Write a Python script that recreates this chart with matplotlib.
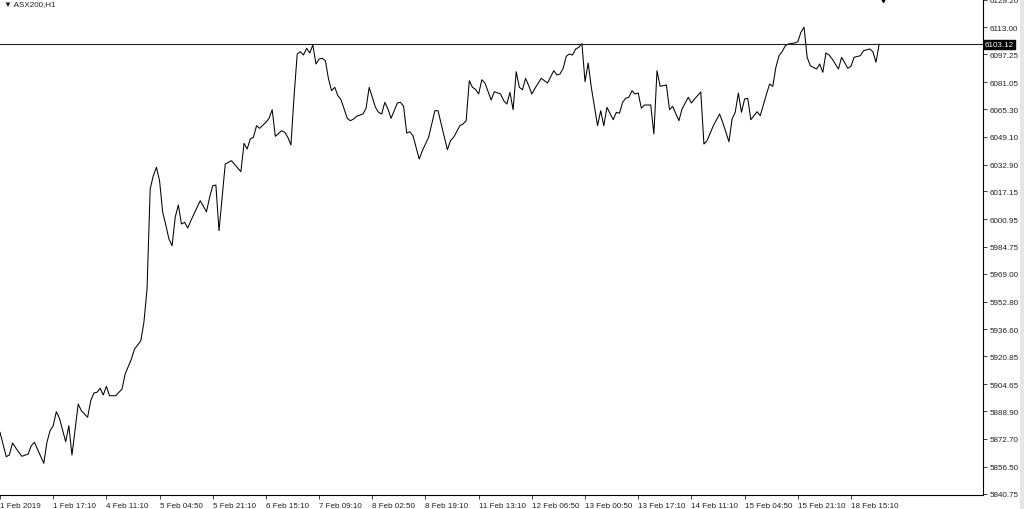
import matplotlib
matplotlib.use('Agg')
import matplotlib.pyplot as plt
from matplotlib.patches import Rectangle

# ASX200 H1 closes (bar number, price)
bars = [0, 2, 3, 4, 6, 7, 9, 10, 11, 14, 15, 16, 17, 18, 19, 21, 22, 23, 25, 26,
        28, 29, 30, 31, 32, 33, 34, 35, 37, 39, 40, 42, 43, 44, 45, 46, 47, 48, 49, 50,
        51, 52, 53, 54, 55, 56, 57, 58, 59, 60, 61, 63, 64, 65, 66, 67, 68, 69, 70, 72,
        74, 77, 78, 79, 80, 81, 82, 83, 85, 86, 87, 88, 90, 91, 92, 93, 94, 95, 96, 97,
        98, 99, 100, 101, 102, 103, 104, 105, 106, 107, 108, 109, 111, 112, 113, 114, 116, 117, 118, 119,
        120, 121, 122, 123, 124, 125, 127, 128, 129, 130, 131, 132, 134, 135, 137, 139, 140, 143, 144, 145,
        147, 148, 149, 150, 151, 152, 153, 154, 155, 157, 158, 160, 161, 162, 163, 164, 165, 166, 167, 168,
        169, 170, 171, 173, 175, 177, 178, 179, 180, 181, 182, 183, 184, 185, 186, 187, 188, 189, 191, 192,
        193, 194, 196, 197, 198, 199, 200, 201, 202, 203, 204, 205, 206, 208, 209, 210, 211, 213, 214, 215,
        217, 218, 220, 221, 222, 224, 225, 226, 228, 230, 231, 233, 234, 235, 236, 237, 238, 239, 240, 242,
        243, 244, 245, 246, 247, 248, 249, 250, 251, 252, 254, 255, 256, 257, 258, 259, 261, 262, 263, 264,
        265, 266, 268, 269, 271, 272, 273, 275, 276, 278, 279, 280, 281]
close = [5876.56, 5862.32, 5863.31, 5870.31, 5864.88, 5862.55, 5863.89, 5868.74, 5870.72, 5858.46,
         5870.72, 5877.49, 5880.41, 5888.59, 5884.73, 5871.07, 5880.41, 5863.31, 5893.08, 5889.17,
         5885.32, 5895.01, 5899.50, 5899.91, 5902.25, 5898.34, 5903.41, 5897.93, 5897.93, 5901.84,
         5910.59, 5919.35, 5925.19, 5927.53, 5930.04, 5940.78, 5960.22, 6018.60, 6026.36, 6031.27,
         6023.44, 6005.00, 5997.58, 5989.41, 5985.50, 6002.08, 6009.26, 5998.16, 5999.16, 5995.83,
         6000.09, 6007.91, 6011.77, 6008.50, 6005.35, 6013.75, 6020.52, 6020.93, 5994.25, 6033.19,
         6035.12, 6028.70, 6045.28, 6041.95, 6047.79, 6048.78, 6055.55, 6054.03, 6057.54, 6059.87,
         6064.89, 6049.36, 6052.63, 6051.70, 6048.78, 6044.29, 6073.07, 6097.41, 6098.75, 6096.83,
         6100.74, 6097.99, 6102.67, 6091.57, 6094.49, 6094.90, 6093.50, 6082.82, 6075.99, 6077.97,
         6073.07, 6070.73, 6059.87, 6058.47, 6059.46, 6061.04, 6062.38, 6065.71, 6077.97, 6072.13,
         6066.29, 6063.38, 6062.38, 6069.21, 6065.30, 6059.87, 6068.80, 6069.21, 6066.88, 6051.29,
         6052.05, 6049.71, 6036.11, 6040.96, 6048.78, 6064.31, 6064.31, 6041.54, 6046.80, 6048.78,
         6055.55, 6056.54, 6058.47, 6081.82, 6077.97, 6076.80, 6074.06, 6082.41, 6080.48, 6070.56,
         6075.40, 6074.06, 6070.15, 6068.22, 6075.05, 6064.89, 6087.08, 6077.97, 6076.57, 6083.23,
         6078.91, 6074.06, 6077.39, 6083.23, 6080.48, 6087.66, 6085.15, 6085.73, 6089.06, 6096.07,
         6097.41, 6096.83, 6100.33, 6101.32, 6103.50, 6081.24, 6092.16, 6077.97, 6055.55, 6064.31,
         6055.55, 6066.29, 6059.05, 6063.38, 6062.79, 6069.21, 6071.55, 6072.13, 6075.99, 6074.06,
         6074.64, 6065.71, 6067.64, 6067.64, 6050.71, 6087.66, 6078.55, 6079.31, 6064.89, 6066.88,
         6058.47, 6065.30, 6072.13, 6068.80, 6071.14, 6075.23, 6044.87, 6046.80, 6055.55, 6062.38,
         6057.54, 6046.21, 6059.46, 6063.38, 6074.64, 6063.38, 6071.14, 6071.55, 6059.05, 6063.73,
         6061.39, 6067.64, 6074.06, 6079.90, 6078.55, 6089.65, 6096.42, 6098.75, 6102.26, 6103.25,
         6103.83, 6104.59, 6110.08, 6113.00, 6095.48, 6090.58, 6088.65, 6091.57, 6086.73, 6097.99,
         6096.83, 6094.49, 6088.65, 6095.48, 6089.06, 6090.23, 6095.48, 6096.42, 6099.34, 6100.33,
         6098.75, 6092.57, 6103.12]

last_price = 6103.12

time_labels = ['1 Feb 2019', '1 Feb 17:10', '4 Feb 11:10', '5 Feb 04:50', '5 Feb 21:10',
               '6 Feb 15:10', '7 Feb 09:10', '8 Feb 02:50', '8 Feb 19:10', '11 Feb 13:10',
               '12 Feb 06:50', '13 Feb 00:50', '13 Feb 17:10', '14 Feb 11:10', '15 Feb 04:50',
               '15 Feb 21:10', '18 Feb 15:10']
bars_per_label = 17

price_ticks = [6129.20, 6113.00, 6097.25, 6081.05, 6065.30, 6049.10, 6032.90, 6017.15,
               6000.95, 5984.75, 5969.00, 5952.80, 5936.60, 5920.85, 5904.65, 5888.90,
               5872.70, 5856.50, 5840.75]

font = ['Liberation Sans', 'DejaVu Sans']
plt.rcParams['font.family'] = font
fs = 5.8

fig = plt.figure(figsize=(10.24, 5.10), dpi=100)
ax = fig.add_axes([0, 14 / 510, 983 / 1024, 496 / 510])

ax.plot(bars, close, color='black', lw=0.75)
ax.axhline(last_price, color='#222222', lw=0.8)

ax.set_xlim(0, 314.2)
ax.set_ylim(5839.96, 6129.52)

for s in ['top', 'left']:
    ax.spines[s].set_visible(False)
for s in ['right', 'bottom']:
    ax.spines[s].set_linewidth(0.8)

ax.yaxis.tick_right()
ax.set_yticks(price_ticks)
ax.set_yticklabels(['%.2f' % p for p in price_ticks])
ax.tick_params(axis='y', direction='out', length=3, width=0.6, labelsize=fs, pad=1.5,
               colors='#222222')

ax.set_xticks([i * bars_per_label for i in range(len(time_labels))])
ax.set_xticklabels(time_labels)
ax.tick_params(axis='x', direction='out', length=3, width=0.6, labelsize=fs, pad=2,
               colors='#222222')
for lab in ax.get_xticklabels():
    lab.set_horizontalalignment('left')

# current price box
ax.text(1.002, last_price, '%.2f' % last_price, transform=ax.get_yaxis_transform(),
        ha='left', va='center', fontsize=fs, color='white', zorder=5,
        bbox=dict(boxstyle='square,pad=0.12', fc='black', ec='black'), clip_on=False)

# chart shift marker
ax.plot([0.898], [1.0], marker='v', ms=4, color='black', transform=ax.transAxes,
        clip_on=False)

fig.text(4 / 1024, 1 - 5 / 510, '\u25bc ASX200,H1', fontsize=fs, va='center',
         ha='left', color='#222222')

fig.add_artist(Rectangle((1020 / 1024, 0), 4 / 1024, 1, transform=fig.transFigure,
                         fc='#e6e6e6', ec='none'))

fig.savefig('out.png', dpi=100)
